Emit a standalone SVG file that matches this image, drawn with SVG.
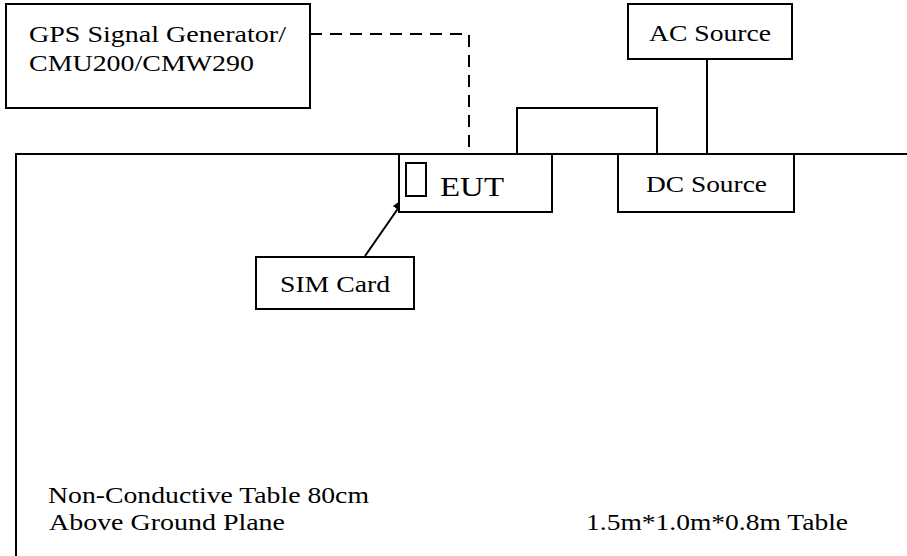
<svg xmlns="http://www.w3.org/2000/svg" width="907" height="556" viewBox="0 0 907 556">
<style>
.b{fill:#fff;stroke:#000;stroke-width:2}
.l{fill:none;stroke:#000;stroke-width:2}
text{font-family:'Liberation Serif','Times New Roman',serif;fill:#000;font-size:28px}
</style>
<defs>
<marker id="ah" markerWidth="16" markerHeight="12" refX="15" refY="6" orient="auto" markerUnits="userSpaceOnUse"><path d="M0,0.5 L16,6 L0,11.5 z" fill="#000"/></marker>
</defs>
<g id="table">
<path class="l" d="M16,556 V154 H907"/>
<text transform="translate(48,503) scale(1,0.85)" textLength="321" lengthAdjust="spacingAndGlyphs">Non-Conductive Table 80cm</text>
<text transform="translate(49,530) scale(1,0.85)" textLength="236" lengthAdjust="spacingAndGlyphs">Above Ground Plane</text>
<text transform="translate(586,530) scale(1,0.85)" textLength="262" lengthAdjust="spacingAndGlyphs">1.5m*1.0m*0.8m Table</text>
</g>
<g id="connectors">
<path class="l" d="M310,34 H469 V152" stroke-dasharray="12,8"/>
<path class="l" d="M517,154 V108 H657 V154"/>
<path class="l" d="M707,59 V154"/>
<path class="l" d="M365,256 L406,197" marker-end="url(#ah)"/>
</g>
<g id="gps">
<rect class="b" x="6" y="4" width="304" height="104"/>
<text transform="translate(29,42) scale(1,0.85)" textLength="257" lengthAdjust="spacingAndGlyphs">GPS Signal Generator/</text>
<text transform="translate(29,71) scale(1,0.85)" textLength="225" lengthAdjust="spacingAndGlyphs">CMU200/CMW290</text>
</g>
<g id="eut">
<rect class="b" x="399" y="154" width="153" height="58"/>
<rect class="b" x="406" y="163" width="20" height="33"/>
<text transform="translate(440,196) scale(1,0.9)" style="font-size:31px" textLength="64" lengthAdjust="spacingAndGlyphs">EUT</text>
</g>
<g id="dc">
<rect class="b" x="618" y="154" width="176" height="58"/>
<text transform="translate(646,192) scale(1,0.85)" textLength="121" lengthAdjust="spacingAndGlyphs">DC Source</text>
</g>
<g id="ac">
<rect class="b" x="628" y="4" width="164" height="55"/>
<text transform="translate(649,41) scale(1,0.85)" textLength="122" lengthAdjust="spacingAndGlyphs">AC Source</text>
</g>
<g id="sim">
<rect class="b" x="256" y="257" width="158" height="52"/>
<text transform="translate(280,292) scale(1,0.85)" textLength="110" lengthAdjust="spacingAndGlyphs">SIM Card</text>
</g>
</svg>
